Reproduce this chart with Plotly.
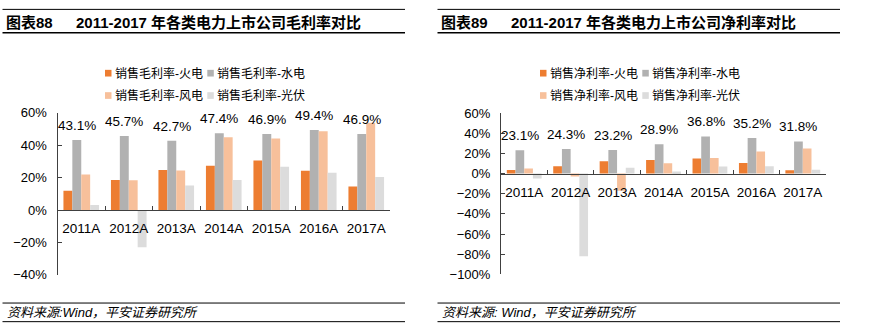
import plotly.graph_objects as go

# ---------------- data ----------------
categories = ["2011A", "2012A", "2013A", "2014A", "2015A", "2016A", "2017A"]

gross_thermal = [11.8, 18.5, 24.6, 27.3, 30.5, 24.2, 14.5]
gross_hydro = [43.1, 45.7, 42.7, 47.4, 46.9, 49.4, 46.9]
gross_wind = [21.9, 18.3, 24.4, 44.9, 44.1, 48.6, 53.8]
gross_solar = [3.1, -22.9, 15.1, 18.5, 26.6, 23.0, 20.4]

net_thermal = [3.5, 7.3, 12.1, 13.3, 15.0, 10.5, 3.2]
net_hydro = [23.1, 24.3, 23.2, 28.9, 36.8, 35.2, 31.8]
net_wind = [5.0, -2.9, -17.0, 10.2, 15.5, 21.8, 24.8]
net_solar = [-5.0, -82.0, 5.7, 1.9, 7.0, 7.3, 3.8]

gross_names = ["销售毛利率-火电", "销售毛利率-水电", "销售毛利率-风电", "销售毛利率-光伏"]
net_names = ["销售净利率-火电", "销售净利率-水电", "销售净利率-风电", "销售净利率-光伏"]

title_left = ["图表88", "2011-2017 年各类电力上市公司毛利率对比"]
title_right = ["图表89", "2011-2017 年各类电力上市公司净利率对比"]
source_left = "资料来源:Wind，平安证券研究所"
source_right = "资料来源: Wind，平安证券研究所"

colors = ["#ED7D31", "#B1B1B1", "#F7C09B", "#DCDCDC"]

# ---------------- layout helpers ----------------
W, H = 869, 333
FONT = "Liberation Sans, Arial, Noto Sans CJK SC, sans-serif"
BARGAP = 0.25


def px(x):
    return x / W


def py(y):
    return 1 - y / H


fig = go.Figure()

panels = [
    dict(xa="x", ya="y", series=[gross_thermal, gross_hydro, gross_wind, gross_solar],
         names=gross_names, xdom=[px(57.5), px(390)], ydom=[py(280.5), py(110.7)],
         yrange=[-40, 60], legend_x0=105, title=title_left, source=source_left, off=0),
    dict(xa="x2", ya="y2", series=[net_thermal, net_hydro, net_wind, net_solar],
         names=net_names, xdom=[px(501), px(826)], ydom=[py(280), py(111)],
         yrange=[-100, 60], legend_x0=540, title=title_right, source=source_right, off=435),
]

shapes = []
annotations = []

for i, p in enumerate(panels):
    for k in range(4):
        fig.add_trace(go.Bar(
            x=categories, y=p["series"][k], name=p["names"][k],
            marker=dict(color=colors[k], line=dict(width=0)),
            xaxis=p["xa"], yaxis=p["ya"], showlegend=False,
        ))
    # data labels above hydro bars
    off_cat = -0.5 * (1 - BARGAP) / 4
    for j, v in enumerate(p["series"][1]):
        annotations.append(dict(
            x=j + off_cat, y=v, xref=p["xa"], yref=p["ya"],
            text=f"{v:.1f}%", showarrow=False, yanchor="bottom", xanchor="center",
            yshift=5, font=dict(family=FONT, size=13.5, color="#000000"),
        ))
    # axes
    lo, hi = p["yrange"]
    zero_pos = p["ydom"][0] + (0 - lo) / (hi - lo) * (p["ydom"][1] - p["ydom"][0])
    xkey = "xaxis" if i == 0 else "xaxis2"
    ykey = "yaxis" if i == 0 else "yaxis2"
    fig.update_layout(**{
        xkey: dict(domain=p["xdom"], anchor="free", position=zero_pos,
                   type="category", tickson="boundaries", ticks="inside", ticklen=4,
                   tickcolor="#404040", showline=True, linecolor="#404040", linewidth=1,
                   showgrid=False, zeroline=False, tickangle=0,
                   tickfont=dict(family=FONT, size=13.5, color="#000000"),
                   ticklabelstandoff=6, range=[-0.5, 6.5]),
        ykey: dict(domain=p["ydom"], anchor=p["xa"], range=p["yrange"], dtick=20, tick0=0,
                   ticksuffix="%", ticks="inside", ticklen=4, tickcolor="#404040",
                   showline=True, linecolor="#404040", linewidth=1, showgrid=False,
                   zeroline=False, tickfont=dict(family=FONT, size=13, color="#000000"),
                   ticklabelstandoff=7),
    })
    # manual legend (2 x 2)
    x0 = p["legend_x0"]
    rows = [69.3, 92.7]
    cols = [x0, x0 + 102.3]
    for k in range(4):
        r, c = divmod(k, 2)
        sx = cols[c]
        sy = rows[r]
        shapes.append(dict(type="rect", xref="paper", yref="paper",
                           x0=px(sx), x1=px(sx + 6.5), y0=py(sy + 3.5), y1=py(sy - 3.5),
                           fillcolor=colors[k], line=dict(width=0)))
        annotations.append(dict(x=px(sx + 7.5), y=py(sy), xref="paper", yref="paper",
                                text=p["names"][k], showarrow=False, xanchor="left",
                                yanchor="middle",
                                font=dict(family=FONT, size=12, color="#000000")))
    # title
    o = p["off"]
    annotations.append(dict(x=px(o + 4), y=py(16.3), xref="paper", yref="paper",
                            text="<b>" + p["title"][0] + "</b>", showarrow=False,
                            xanchor="left", yanchor="middle",
                            font=dict(family=FONT, size=15, color="#000000")))
    annotations.append(dict(x=px(o + 74), y=py(16.3), xref="paper", yref="paper",
                            text="<b>" + p["title"][1] + "</b>", showarrow=False,
                            xanchor="left", yanchor="middle",
                            font=dict(family=FONT, size=15, color="#000000")))
    # source
    annotations.append(dict(x=px(o + 5), y=py(319.8), xref="paper", yref="paper",
                            text="<i>" + p["source"] + "</i>", showarrow=False,
                            xanchor="left", yanchor="middle",
                            font=dict(family=FONT, size=13, color="#000000")))
    # rules
    for yy, lw in [(2.5, 1), (27, 1.5), (310, 1), (329.5, 1)]:
        shapes.append(dict(type="line", xref="paper", yref="paper",
                           x0=px(o + 2.5), x1=px(o + 405), y0=py(yy), y1=py(yy),
                           line=dict(color="#000000", width=lw)))

fig.update_layout(
    width=W, height=H, margin=dict(l=0, r=0, t=0, b=0),
    paper_bgcolor="#FFFFFF", plot_bgcolor="rgba(0,0,0,0)",
    barmode="group", bargap=BARGAP, bargroupgap=0,
    showlegend=False, shapes=shapes, annotations=annotations,
    font=dict(family=FONT),
)

fig.write_html("out.html")
